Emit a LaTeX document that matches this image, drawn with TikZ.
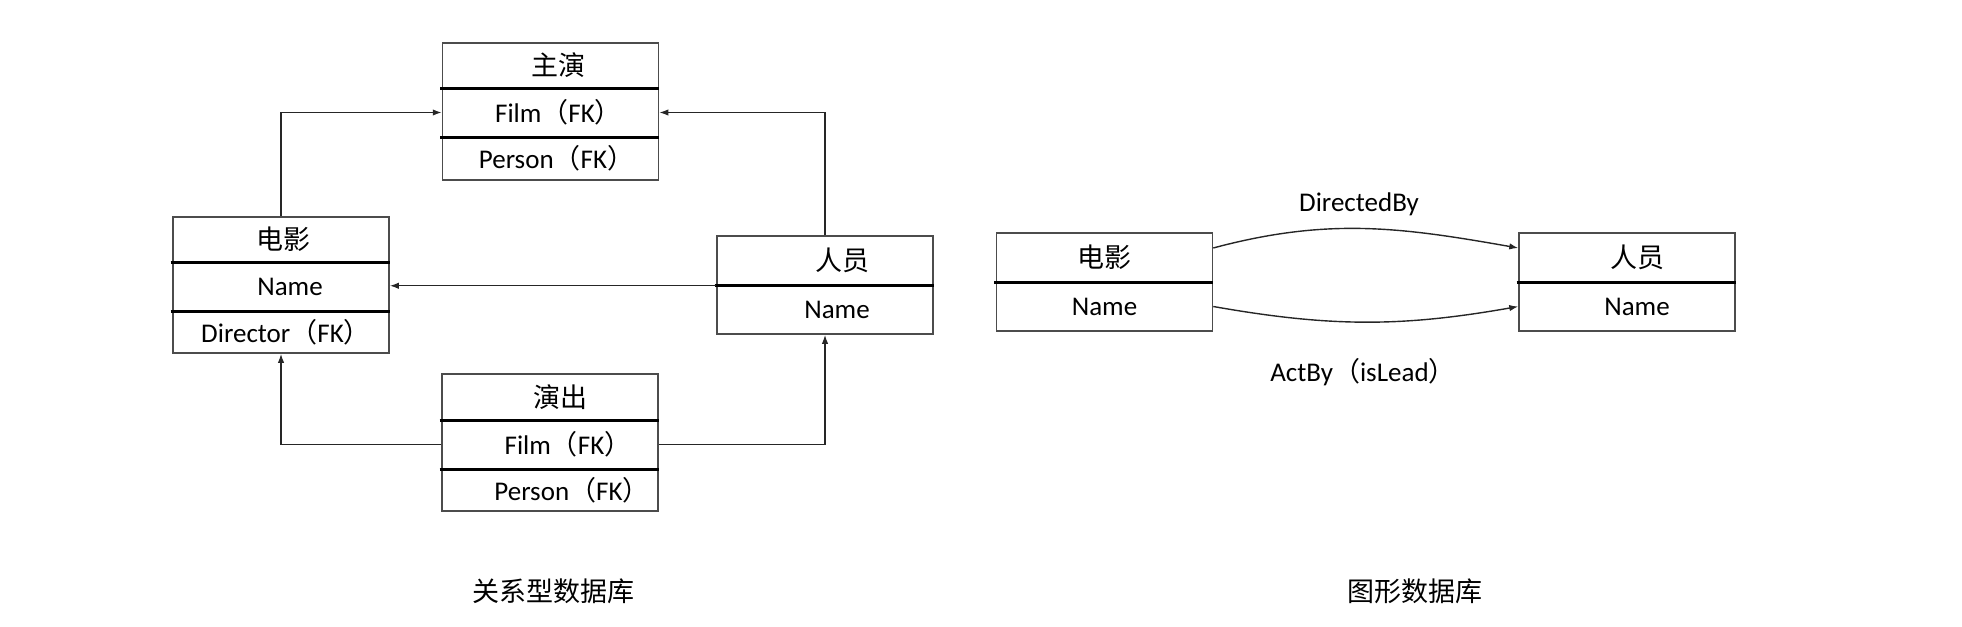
\documentclass[tikz,border=0pt]{standalone}
\usepackage{fontspec}
\setmainfont{Carlito}
\newfontfamily\cjk{Noto Sans CJK SC}
\usetikzlibrary{arrows.meta}
\newcommand{\FKtag}{{\cjk （}FK{\cjk ）}}

\begin{document}
\begin{tikzpicture}[x=.5pt,y=-.5pt,
  cell/.style={draw=black!70,line width=.75pt,minimum width=108pt,inner sep=0pt,font=\fontsize{13.5}{16}\selectfont},
  sep/.style={line width=1.5pt},
  link/.style={draw=black!85,line width=.7pt,-{Latex[length=4.5pt,width=3.2pt]}},
  lbl/.style={inner sep=0pt,font=\fontsize{13.5}{16}\selectfont}]
\useasboundingbox (0,0) rectangle (1962,626);
% relational tables
\node[cell,minimum height=22.5pt] (film0) at (281,239.5){\hspace*{2pt}\cjk 电影};
\node[cell,minimum height=24.5pt] (film1) at (281,286.5){\hspace*{9pt}Name};
\node[cell,minimum height=21pt] (film2) at (281,332){\hspace*{5pt}Director\FKtag};
\node[cell,minimum height=22.5pt] (lead0) at (550.5,65.5){\hspace*{8pt}\cjk 主演};
\node[cell,minimum height=24.5pt] (lead1) at (550.5,112.5){\hspace*{8pt}Film\FKtag};
\node[cell,minimum height=21.5pt] (lead2) at (550.5,158.5){\hspace*{6pt}Person\FKtag};
\node[cell,minimum height=23pt] (act0) at (550,397){\hspace*{10pt}\cjk 演出};
\node[cell,minimum height=24.5pt] (act1) at (550,444.5){\hspace*{18pt}Film\FKtag};
\node[cell,minimum height=21pt] (act2) at (550,490){\hspace*{22pt}Person\FKtag};
\node[cell,minimum height=24.5pt] (person0) at (825,260.5){\hspace*{17pt}\cjk 人员};
\node[cell,minimum height=24.5pt] (person1) at (825,309.5){\hspace*{12pt}Name};
% graph
\node[cell,minimum height=24.5pt] (gfilm0) at (1104.5,257.5){\cjk 电影};
\node[cell,minimum height=24.5pt] (gfilm1) at (1104.5,306.5){Name};
\node[cell,minimum height=24.5pt] (gperson0) at (1627,257.5){\hspace*{10pt}\cjk 人员};
\node[cell,minimum height=24.5pt] (gperson1) at (1627,306.5){\hspace*{10pt}Name};
\foreach \n in {film0,film1,lead0,lead1,act0,act1,person0,gfilm0,gperson0}{
  \draw[sep] ([xshift=-.8pt]\n.south west) -- (\n.south east);}
\draw[link] (film0.north) |- (lead1.west);
\draw[link] (person0.north) |- (lead1.east);
\draw[link] (person0.south west) -- (film1.east |- person0.south west);
\draw[link] (act1.west) -| (film2.south);
\draw[link] (act1.east) -| (person1.south);
\draw[link] (gfilm0.5) to[out=15,in=170] (gperson0.175);
\draw[link] (gfilm1.east) to[out=-10,in=190] (gperson1.west);
\node[lbl] (directed) at (1359,204){DirectedBy};
\node[lbl] (actby) at (1363,372){ActBy{\cjk （}isLead{\cjk ）}};
\node[lbl] (reldb) at (553,591){\cjk 关系型数据库};
\node[lbl] (graphdb) at (1415,591){\cjk 图形数据库};
\end{tikzpicture}
\end{document}
